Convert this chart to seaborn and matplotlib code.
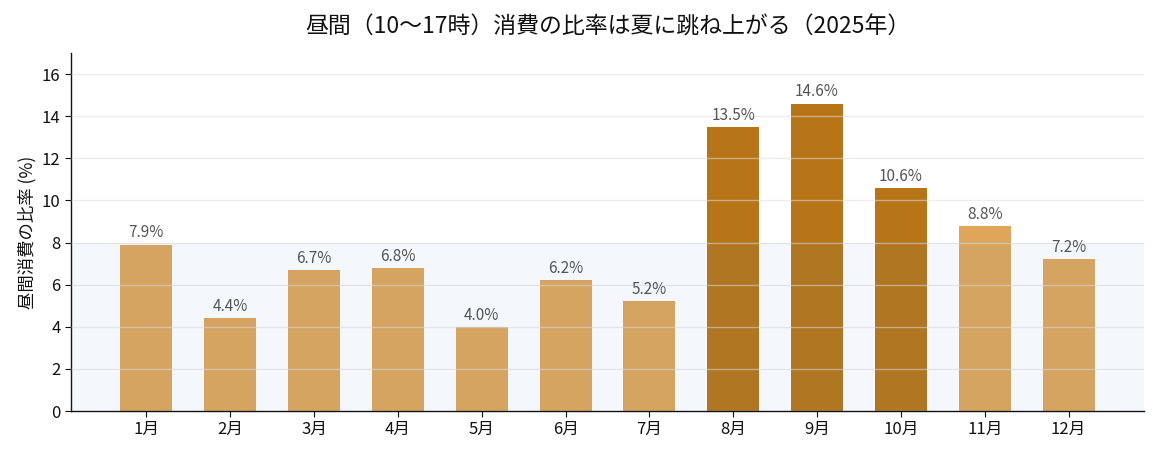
import pandas as pd
import numpy as np
import matplotlib as mpl
import matplotlib.pyplot as plt
import seaborn as sns

### DATA ###
months = ["1月", "2月", "3月", "4月", "5月", "6月", "7月", "8月", "9月", "10月", "11月", "12月"]
daytime_share = [7.9, 4.4, 6.7, 6.8, 4.0, 6.2, 5.2, 13.5, 14.6, 10.6, 8.8, 7.2]
peak_months = ["8月", "9月", "10月"]

### STYLE ###
sns.set_style("white")
plt.rcParams['font.family'] = ['Noto Sans CJK JP', 'DejaVu Sans']

base_color = "#DFA65B"
peak_color = "#B87518"

df = pd.DataFrame({"month": months, "share": daytime_share})
df["group"] = np.where(df["month"].isin(peak_months), "peak", "base")

fig, ax = plt.subplots(figsize=(11.56, 4.55), dpi=100)
sns.barplot(data=df, x="month", y="share", hue="group",
            palette={"base": base_color, "peak": peak_color},
            width=0.62, legend=False, saturation=1, linewidth=0,
            ax=ax, zorder=2)

# light band for the "normal" range, laid over the bars
ax.axhspan(0, 8, color="#4C8BD0", alpha=0.06, zorder=3, linewidth=0)

ax.set_ylim(0, 17)
ax.set_xlim(-0.9, 11.9)
ax.set_yticks(range(0, 17, 2))
ax.grid(axis="y", color="#DDDDDD", alpha=0.55, linewidth=1, zorder=4)
ax.set_axisbelow(False)

for i, v in enumerate(daytime_share):
    ax.text(i, v + 0.15, f"{v:.1f}%", ha="center", va="bottom", fontsize=11, color="#555555", zorder=5)

ax.set_title("昼間（10〜17時）消費の比率は夏に跳ね上がる（2025年）", fontsize=16.5,
             pad=14, color="#111111")
ax.set_xlabel("")
ax.set_ylabel("昼間消費の比率 (%)", fontsize=12.5, color="#111111")
ax.tick_params(axis="both", labelsize=12, length=4, left=True, bottom=True, colors="#111111")
sns.despine(ax=ax)
for s in ["left", "bottom"]:
    ax.spines[s].set_color("#111111")
    ax.spines[s].set_linewidth(1.0)

plt.subplots_adjust(left=0.0614, right=0.9896, top=0.8835, bottom=0.0967)
plt.savefig("out.png", dpi=100)
